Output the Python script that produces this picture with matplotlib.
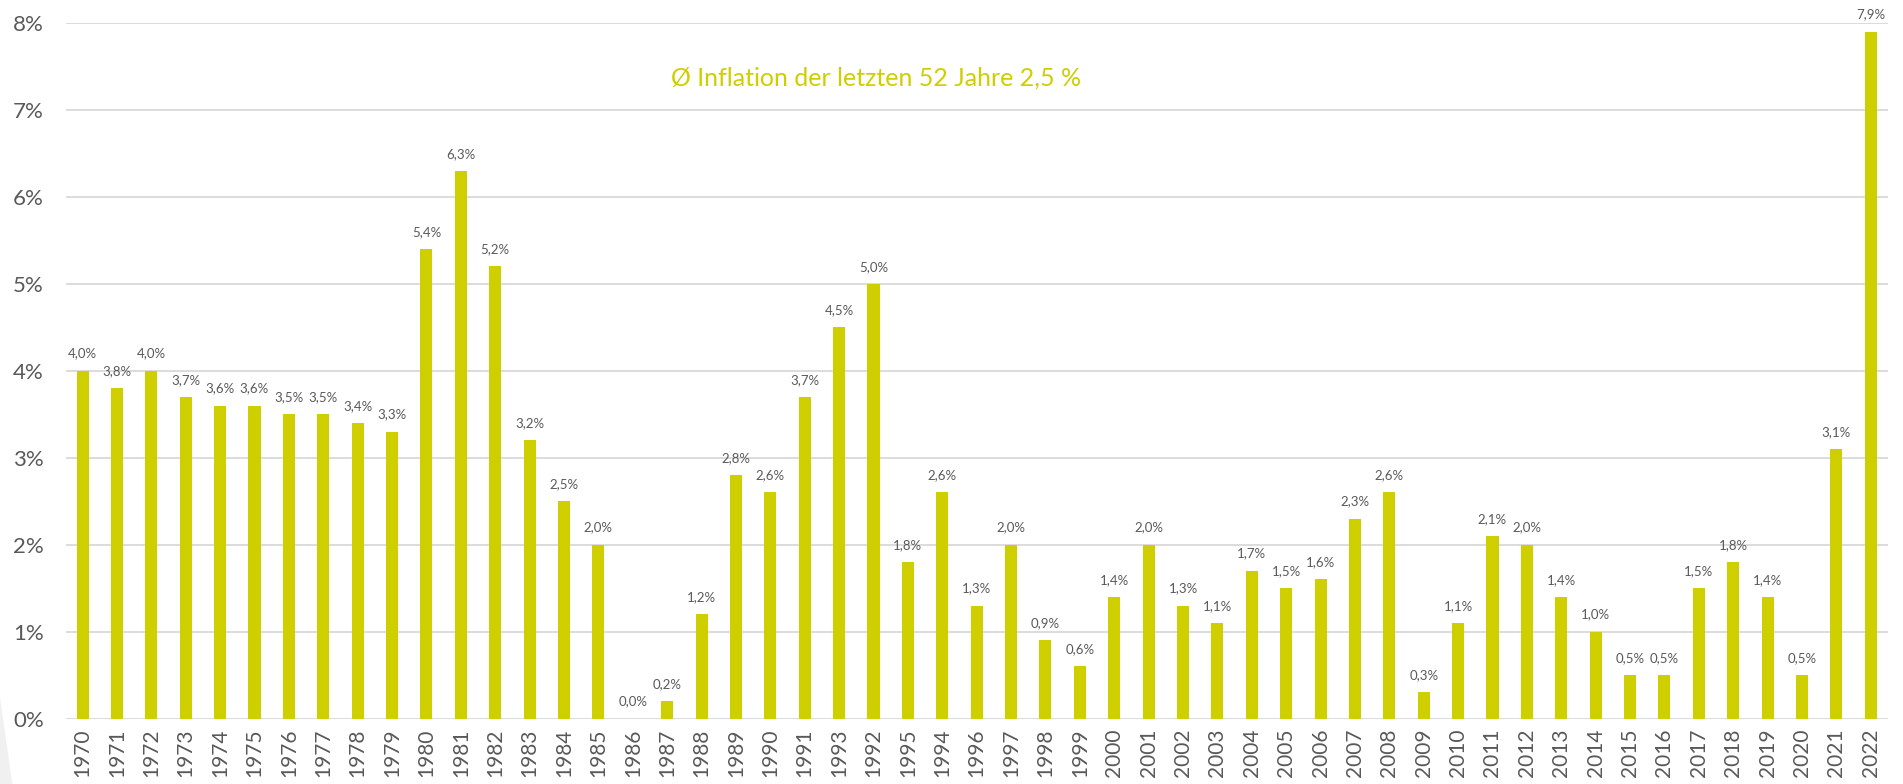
import matplotlib.pyplot as plt
from matplotlib.patches import Polygon
from matplotlib.ticker import FuncFormatter

# Inflation Deutschland, Jahreswerte in %
years = ["1970", "1971", "1972", "1973", "1974", "1975", "1976", "1977", "1978", "1979",
         "1980", "1981", "1982", "1983", "1984", "1985", "1986", "1987", "1988", "1989",
         "1990", "1991", "1993", "1992", "1995", "1994", "1996", "1997", "1998", "1999",
         "2000", "2001", "2002", "2003", "2004", "2005", "2006", "2007", "2008", "2009",
         "2010", "2011", "2012", "2013", "2014", "2015", "2016", "2017", "2018", "2019",
         "2020", "2021", "2022"]
inflation = [4.0, 3.8, 4.0, 3.7, 3.6, 3.6, 3.5, 3.5, 3.4, 3.3,
             5.4, 6.3, 5.2, 3.2, 2.5, 2.0, 0.0, 0.2, 1.2, 2.8,
             2.6, 3.7, 4.5, 5.0, 1.8, 2.6, 1.3, 2.0, 0.9, 0.6,
             1.4, 2.0, 1.3, 1.1, 1.7, 1.5, 1.6, 2.3, 2.6, 0.3,
             1.1, 2.1, 2.0, 1.4, 1.0, 0.5, 0.5, 1.5, 1.8, 1.4,
             0.5, 3.1, 7.9]
y_ticks = [0, 1, 2, 3, 4, 5, 6, 7, 8]
headline = "Ø Inflation der letzten 52 Jahre 2,5 %"

BAR = "#CFCF00"
GREY = "#595959"
GRID = "#D9D9D9"

plt.rcParams["font.family"] = ["Lato", "DejaVu Sans"]

fig = plt.figure(figsize=(19.03, 7.84), dpi=100)
ax = fig.add_axes([0.0347, 0.0835, 0.9574, 0.8872])
ax.set_zorder(2)

# faint decorative wedge in the bottom-left corner
fig.patches.append(Polygon([(0, 0), (0.0065, 0), (0, 0.11)],
                           closed=True, transform=fig.transFigure,
                           facecolor="#F0F0F0", edgecolor="none", zorder=0))

x = list(range(len(years)))
ax.bar(x, inflation, width=0.35, color=BAR, zorder=3)

for xi, v in zip(x, inflation):
    ax.annotate(f"{v:.1f}%".replace(".", ","), xy=(xi, v), xytext=(0, 8),
                textcoords="offset points", ha="center", va="bottom",
                fontsize=9.5, color=GREY, annotation_clip=False)

ax.set_xlim(-0.48, len(years) - 0.5)
ax.set_ylim(0, 8)
ax.set_yticks(y_ticks)
ax.yaxis.set_major_formatter(FuncFormatter(lambda v, p: f"{int(v)}%"))
ax.set_xticks(x)
ax.set_xticklabels(years, rotation=90)
ax.tick_params(axis="y", length=0, pad=16, labelsize=16, labelcolor=GREY)
ax.tick_params(axis="x", length=0, pad=7, labelsize=15, labelcolor=GREY)

ax.grid(axis="y", color=GRID, linewidth=1.3, zorder=0)
for s in ax.spines.values():
    s.set_visible(False)

ax.text(0.4605, 0.9, headline, transform=fig.transFigure, ha="center",
        va="center", fontsize=18, color=BAR)

fig.savefig("out.png", dpi=100)
